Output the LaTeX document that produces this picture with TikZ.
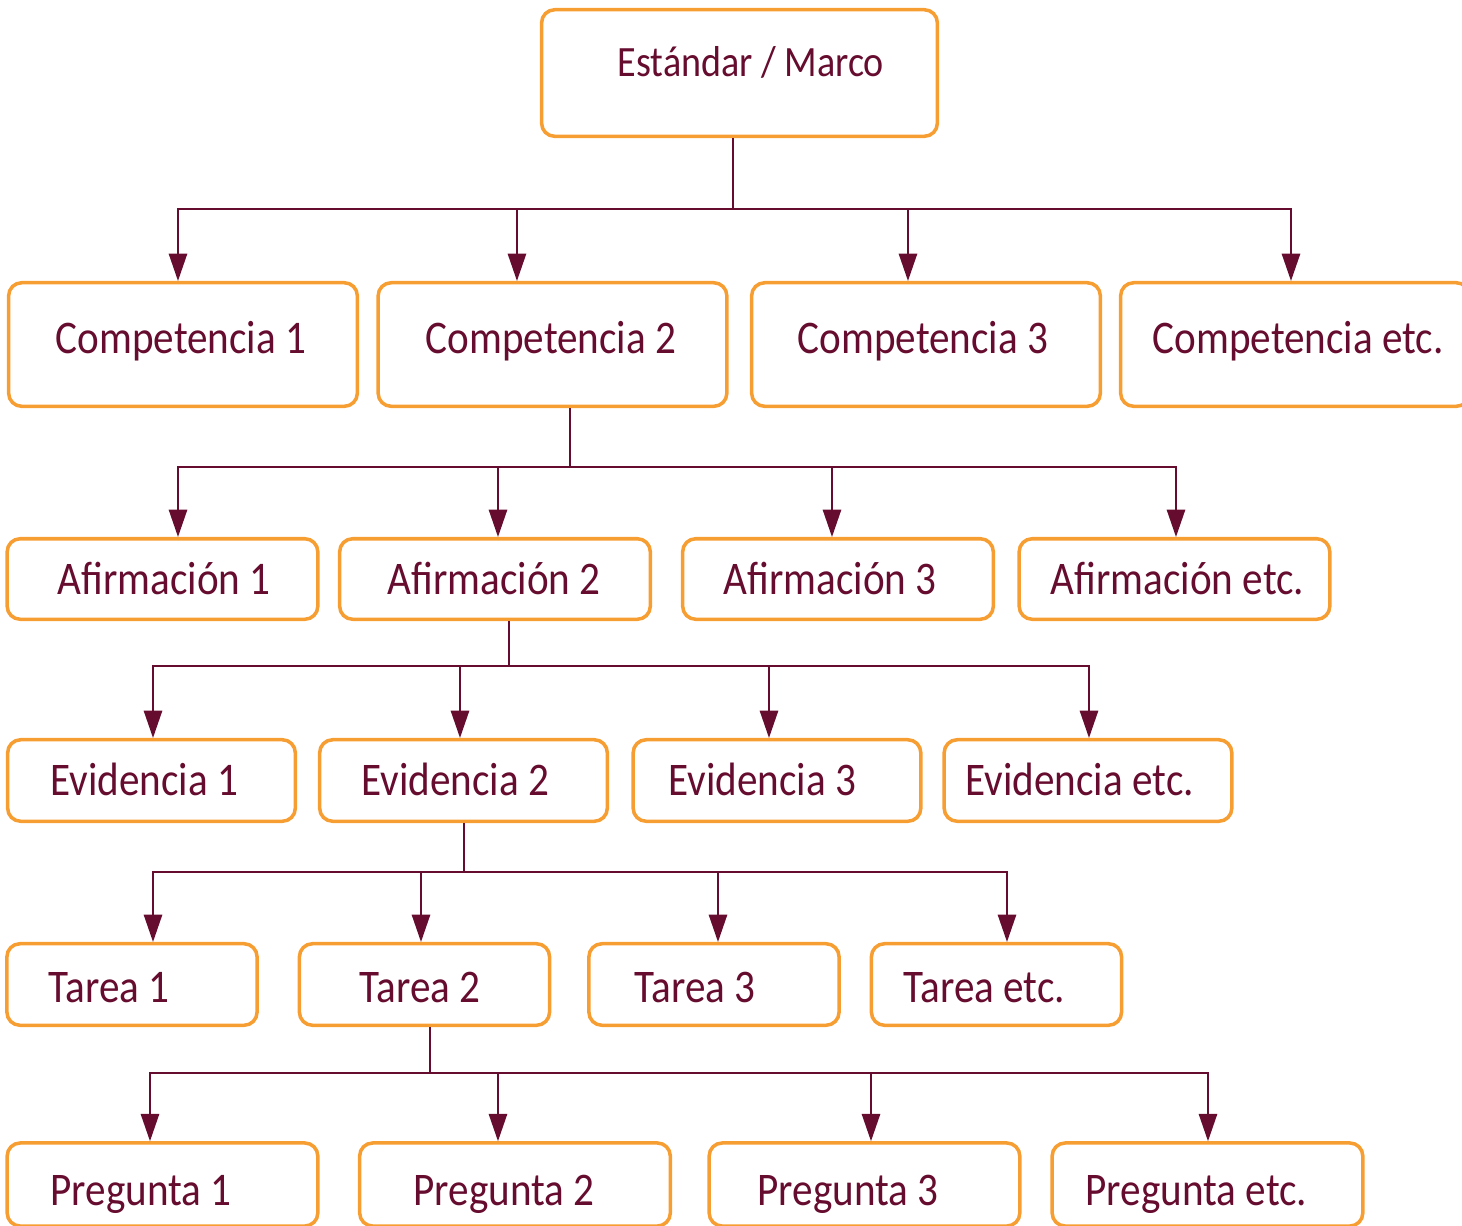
\documentclass[tikz,border=0pt]{standalone}
\usepackage{fontspec}
\setmainfont[FakeStretch=0.88]{Carlito}
\usetikzlibrary{positioning, arrows.meta}
\definecolor{boxorange}{RGB}{247,158,50}
\definecolor{wine}{RGB}{102,12,46}

\begin{document}
\begin{tikzpicture}[x=0.01cm, y=-0.01cm,
  box/.style={draw=boxorange, line width=1pt, rounded corners=0.13cm},
  comp/.style={box, minimum width=3.485cm, minimum height=1.235cm},
  afir/.style={box, minimum width=3.105cm, minimum height=0.805cm},
  evid/.style={box, minimum width=2.875cm, minimum height=0.815cm},
  tarea/.style={box, minimum width=2.5cm, minimum height=0.815cm},
  preg/.style={box, minimum width=3.105cm, minimum height=0.83cm},
  lbl/.style={anchor=base west, inner sep=0pt, text=wine, font=\fontsize{13.3}{15}\selectfont},
  link/.style={draw=wine, line width=0.6pt},
  arr/.style={link, -{Triangle[length=7.8pt, width=5.2pt]}}]
\useasboundingbox (0,0) rectangle (1462,1226);

% Estandar
\node[box, minimum width=3.955cm, minimum height=1.265cm] (std) at (739.5,73) {};
\node[lbl, font=\fontsize{12.3}{14}\selectfont] (t-std) at (617,76) {Estándar / Marco};

% Competencias
\node[comp] (c1) at (183,344.5) {};
\node[comp] (c2) at (552.5,344.5) {};
\node[comp] (c3) at (926,344.5) {};
\node[comp] (c4) at (1295,344.5) {};
\node[lbl] (t-c1) at (55,353) {Competencia 1};
\node[lbl] (t-c2) at (425,353) {Competencia 2};
\node[lbl] (t-c3) at (797,353) {Competencia 3};
\node[lbl] (t-c4) at (1152,353) {Competencia etc.};

% Afirmaciones
\node[afir] (a1) at (162.5,579) {};
\node[afir] (a2) at (495,579) {};
\node[afir] (a3) at (838,579) {};
\node[afir] (a4) at (1174.5,579) {};
\node[lbl] (t-a1) at (57,594) {Afirmación 1};
\node[lbl] (t-a2) at (387,594) {Afirmación 2};
\node[lbl] (t-a3) at (723,594) {Afirmación 3};
\node[lbl] (t-a4) at (1050,594) {Afirmación etc.};

% Evidencias
\node[evid] (e1) at (151.5,780.5) {};
\node[evid] (e2) at (463.5,780.5) {};
\node[evid] (e3) at (777,780.5) {};
\node[evid] (e4) at (1088,780.5) {};
\node[lbl] (t-e1) at (50,795) {Evidencia 1};
\node[lbl] (t-e2) at (361,795) {Evidencia 2};
\node[lbl] (t-e3) at (668,795) {Evidencia 3};
\node[lbl] (t-e4) at (965,795) {Evidencia etc.};

% Tareas
\node[tarea] (t1) at (132,984.5) {};
\node[tarea] (t2) at (424.5,984.5) {};
\node[tarea] (t3) at (714,984.5) {};
\node[tarea] (t4) at (996.5,984.5) {};
\node[lbl] (t-t1) at (48,1002) {Tarea 1};
\node[lbl] (t-t2) at (359,1002) {Tarea 2};
\node[lbl] (t-t3) at (634,1002) {Tarea 3};
\node[lbl] (t-t4) at (903,1002) {Tarea etc.};

% Preguntas
\node[preg] (p1) at (162.5,1184.5) {};
\node[preg] (p2) at (515,1184.5) {};
\node[preg] (p3) at (864.5,1184.5) {};
\node[preg] (p4) at (1207.5,1184.5) {};
\node[lbl] (t-p1) at (50,1205) {Pregunta 1};
\node[lbl] (t-p2) at (413,1205) {Pregunta 2};
\node[lbl] (t-p3) at (757,1205) {Pregunta 3};
\node[lbl] (t-p4) at (1085,1205) {Pregunta etc.};

% Conectores
\coordinate (j1) at (733,209);
\draw[link] (std.south -| j1) -- (j1);
\draw[arr] (j1) -| ([xshift=-0.05cm]c1.north);
\draw[arr] (j1) -| ([xshift=-0.355cm]c2.north);
\draw[arr] (j1) -| ([xshift=-0.18cm]c3.north);
\draw[arr] (j1) -| ([xshift=-0.04cm]c4.north);

\coordinate (j2) at (570,467);
\draw[link] (c2.south -| j2) -- (j2);
\draw[arr] (j2) -| ([xshift=0.155cm]a1.north);
\draw[arr] (j2) -| ([xshift=0.03cm]a2.north);
\draw[arr] (j2) -| ([xshift=-0.06cm]a3.north);
\draw[arr] (j2) -| ([xshift=0.015cm]a4.north);

\coordinate (j3) at (509,666);
\draw[link] (a2.south -| j3) -- (j3);
\draw[arr] (j3) -| ([xshift=0.015cm]e1.north);
\draw[arr] (j3) -| ([xshift=-0.035cm]e2.north);
\draw[arr] (j3) -| ([xshift=-0.08cm]e3.north);
\draw[arr] (j3) -| ([xshift=0.01cm]e4.north);

\coordinate (j4) at (464,872);
\draw[link] (e2.south -| j4) -- (j4);
\draw[arr] (j4) -| ([xshift=0.21cm]t1.north);
\draw[arr] (j4) -| ([xshift=-0.035cm]t2.north);
\draw[arr] (j4) -| ([xshift=0.04cm]t3.north);
\draw[arr] (j4) -| ([xshift=0.105cm]t4.north);

\coordinate (j5) at (430,1073);
\draw[link] (t2.south -| j5) -- (j5);
\draw[arr] (j5) -| ([xshift=-0.125cm]p1.north);
\draw[arr] (j5) -| ([xshift=-0.17cm]p2.north);
\draw[arr] (j5) -| ([xshift=0.065cm]p3.north);
\draw[arr] (j5) -| ([xshift=0.005cm]p4.north);
\end{tikzpicture}
\end{document}
